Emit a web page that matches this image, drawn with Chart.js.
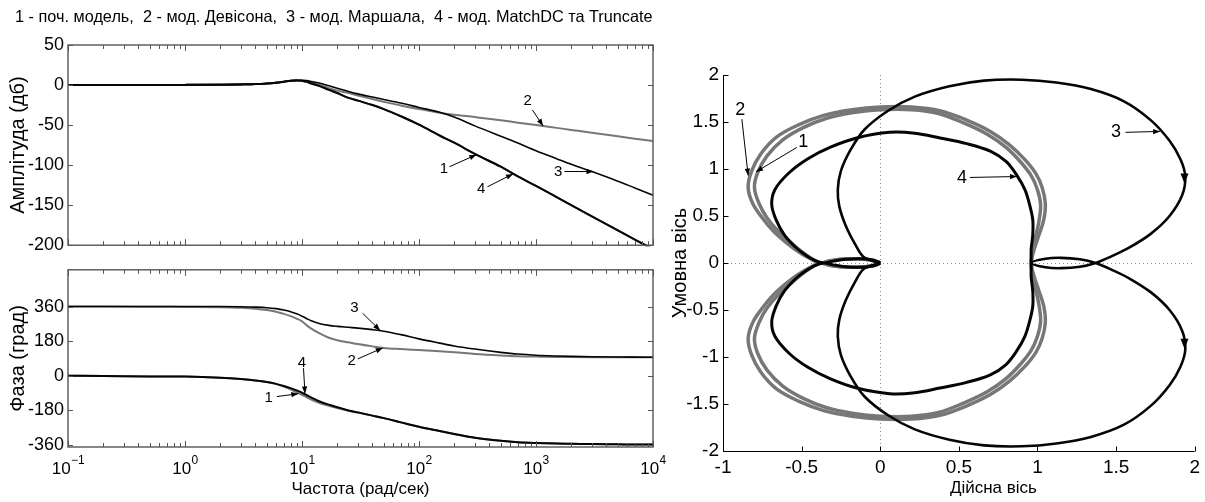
<!DOCTYPE html>
<html><head><meta charset="utf-8">
<script src="https://cdn.jsdelivr.net/npm/chart.js@4.4.1/dist/chart.umd.min.js"></script>
<style>
html,body{margin:0;padding:0;background:#fff;}
body{width:1205px;height:502px;position:relative;overflow:hidden;font-family:'Liberation Sans',Arial,sans-serif;}
canvas{position:absolute;}
#ttl{position:absolute;left:15px;top:7px;font-size:14.5px;white-space:pre;color:#000;line-height:18px;}
</style></head><body>
<canvas id="mag" width="670" height="260" style="left:0;top:0"></canvas>
<canvas id="pha" width="670" height="247" style="left:0;top:255px"></canvas>
<canvas id="nyq" width="565" height="452" style="left:640px;top:50px"></canvas>
<div id="ttl">1 - поч. модель,  2 - мод. Девісона,  3 - мод. Маршала,  4 - мод. MatchDC та Truncate</div>
<script>
// ---------- Bode data ----------
const freq = [0.1,0.2,0.5,1,2,3,4,5,6,7,8,9,10,11,12,14,17,20,25,30,40,50,70,100,150,200,300,500,700,1000,1500,2000,3000,5000,7000,10000];
const mag1 = [0,0,0,0.2,0.5,0.8,1.2,2,3,4.2,5.3,5.8,5.5,4,2,-1,-6,-10,-16,-19.5,-25,-30,-39,-49.5,-63,-72,-86,-102,-114,-126,-140,-150,-164,-181.5,-193,-205];
const mag2 = [0,0,0,0.2,0.5,0.8,1.2,2,3,4.2,5.3,5.8,5.5,4.5,3,0,-4,-7,-10,-13,-17.5,-21,-25.5,-30,-34.5,-37,-40,-44,-47,-50,-53.5,-56,-59.5,-64,-67,-70];
const mag3 = [0,0,0,0.2,0.5,0.8,1.2,2,3,4.2,5.3,6,6,5.5,4.5,2.5,-1,-4,-8,-11,-15,-18,-22.5,-28,-34,-40,-51,-64,-72.5,-82,-92,-99,-108,-120,-128.5,-137.5];
const mag4 = [0,0,0,0.2,0.5,0.8,1.2,2,3,4.2,5.3,5.8,5.5,4,2,-1,-6,-10,-16,-19.5,-25,-30,-39,-49.5,-63,-72,-86,-102,-114,-126,-140,-150,-164,-181.5,-193,-205];
const pha1 = [0,-1,-3,-4,-10,-17,-24,-32,-42,-56,-70,-85,-99,-112,-123,-140,-156,-167,-182,-191,-207,-220,-242,-265,-287,-302,-322,-338,-345,-349,-352,-353,-355,-356,-357,-357];
const pha2 = [360,360,359,358,357,354,349,342,333,322,310,297,283,262,245,222,198,185,174,165,153,145,139,134,128,123,114,106,102,100,98,97.5,97,96.5,96,96];
const pha3 = [360,360,360,360,360,359,357,354,349,342,333,322,310,297,286,272,262,257,252,248,240,232,214,192,170,155,139,122,113,107,103,101,99,97.5,97,96.5];
const pha4 = [0,-1,-3,-4,-10,-17,-24,-32,-42,-53,-64,-76,-88,-101,-113,-132,-150,-163,-180,-190,-207,-220,-242,-265,-287,-302,-322,-338,-345,-349,-352,-353,-355,-356,-357,-357];
const decades = [-1,0,1,2,3,4];
const magTicks = [-200,-150,-100,-50,0,50];
const phaTicks = [-360,-180,0,180,360];

// ---------- Nyquist data (upper branch, mirrored for negative frequencies) ----------
const nyq1Re = [0.00,-0.05,-0.15,-0.25,-0.33,-0.38,-0.44,-0.50,-0.57,-0.65,-0.72,-0.77,-0.80,-0.78,-0.72,-0.62,-0.49,-0.34,-0.17,0.00,0.20,0.37,0.53,0.68,0.80,0.89,0.96,1.00,1.02,1.01,0.99,0.97,0.96];
const nyq1Im = [0.00,0.03,0.045,0.04,0.02,0.00,0.05,0.12,0.22,0.34,0.48,0.63,0.80,0.96,1.14,1.31,1.44,1.54,1.60,1.63,1.63,1.59,1.49,1.37,1.23,1.08,0.93,0.78,0.62,0.45,0.29,0.14,0.00];
const nyq2Re = [0.00,-0.05,-0.15,-0.25,-0.33,-0.38,-0.45,-0.52,-0.60,-0.68,-0.75,-0.81,-0.84,-0.82,-0.76,-0.66,-0.52,-0.36,-0.18,0.00,0.20,0.38,0.55,0.70,0.82,0.92,0.99,1.03,1.05,1.04,1.01,0.98,0.96];
const nyq2Im = [0.00,0.03,0.045,0.04,0.02,0.00,0.05,0.12,0.22,0.34,0.48,0.63,0.80,0.97,1.16,1.34,1.47,1.57,1.63,1.66,1.66,1.62,1.52,1.40,1.26,1.10,0.95,0.80,0.63,0.46,0.30,0.15,0.00];
const nyq3Re = [0.00,-0.06,-0.11,-0.16,-0.22,-0.26,-0.27,-0.25,-0.19,-0.10,0.05,0.22,0.44,0.66,0.90,1.12,1.34,1.55,1.72,1.84,1.91,1.94,1.92,1.84,1.72,1.58,1.47,1.37,1.27,1.15,1.05,0.96];
const nyq3Im = [0.00,0.03,0.07,0.20,0.40,0.60,0.78,0.98,1.20,1.42,1.62,1.77,1.88,1.94,1.95,1.92,1.85,1.72,1.52,1.30,1.10,0.92,0.72,0.50,0.31,0.16,0.07,0.00,-0.04,-0.055,-0.045,0.00];
const nyq4Re = [0.00,-0.04,-0.12,-0.22,-0.30,-0.36,-0.42,-0.48,-0.54,-0.61,-0.66,-0.69,-0.67,-0.58,-0.46,-0.32,-0.15,0.06,0.22,0.38,0.55,0.70,0.80,0.87,0.92,0.95,0.97,0.97,0.96,0.96];
const nyq4Im = [0.00,0.03,0.045,0.04,0.02,0.00,0.03,0.09,0.17,0.30,0.45,0.62,0.78,0.96,1.11,1.23,1.33,1.39,1.38,1.33,1.27,1.19,1.08,0.93,0.78,0.62,0.46,0.30,0.15,0.00];
const nyqXTicks = [-1,-0.5,0,0.5,1,1.5,2];
const nyqYTicks = [-2,-1.5,-1,-0.5,0,0.5,1,1.5,2];

// ---------- annotations (data coordinates) ----------
const magNotes = [
  {t:'2', tx:850, ty:-19.5, x1:930, y1:-31, x2:1150, y2:-51},
  {t:'1', tx:163, ty:-105, x1:182, y1:-102, x2:309, y2:-87},
  {t:'4', tx:340, ty:-130, x1:385, y1:-127, x2:636, y2:-111},
  {t:'3', tx:1550, ty:-108.5, x1:1750, y1:-108, x2:3100, y2:-108}
];
const phaNotes = [
  {t:'3', tx:28, ty:355, x1:33, y1:325, x2:46.5, y2:236},
  {t:'2', tx:26.6, ty:78, x1:30, y1:88, x2:49, y2:145},
  {t:'4', tx:10, ty:68, x1:10.3, y1:40, x2:10.6, y2:-92},
  {t:'1', tx:5.2, ty:-112, x1:6.1, y1:-108, x2:9.3, y2:-93}
];
const nyqNotes = [
  {t:'3', tx:1.50, ty:1.39, x1:1.56, y1:1.39, x2:1.78, y2:1.40},
  {t:'4', tx:0.52, ty:0.90, x1:0.57, y1:0.91, x2:0.87, y2:0.92},
  {t:'2', tx:-0.89, ty:1.63, x1:-0.88, y1:1.53, x2:-0.84, y2:0.93},
  {t:'1', tx:-0.49, ty:1.29, x1:-0.53, y1:1.23, x2:-0.79, y2:0.97}
];
const nyqMarks = [{x:1.935, y:0.90}, {x:1.935, y:-0.86}];

// ---------- helpers ----------
const FONT = "'Liberation Sans', Arial, sans-serif";
Chart.defaults.font.family = FONT;
Chart.defaults.color = '#000';
const GRAY = '#777777', BLACK = '#050505';

function series(vals){ return freq.map((f,i)=>({x:f, y:vals[i]})); }
function closed(re, im){
  const pts = re.map((r,i)=>({x:r, y:im[i]}));
  for (let i = re.length-2; i >= 0; i--) pts.push({x:re[i], y:-im[i]});
  return pts;
}
function bodeSets(v1,v2,v3,v4){
  return [
    {data:series(v4), borderColor:BLACK, borderWidth:2, order:0},
    {data:series(v3), borderColor:BLACK, borderWidth:1.6, order:1},
    {data:series(v1), borderColor:GRAY, borderWidth:2, order:2},
    {data:series(v2), borderColor:GRAY, borderWidth:2, order:3}
  ].map(d=>Object.assign({pointRadius:0, fill:false, cubicInterpolationMode:'monotone', clip:1}, d));
}
function arrow(ctx,x1,y1,x2,y2,h){
  ctx.beginPath(); ctx.moveTo(x1,y1); ctx.lineTo(x2,y2); ctx.stroke();
  const a = Math.atan2(y2-y1,x2-x1), c=Math.cos(a), s=Math.sin(a), w=h*0.38;
  ctx.beginPath(); ctx.moveTo(x2,y2);
  ctx.lineTo(x2-h*c+w*s, y2-h*s-w*c);
  ctx.lineTo(x2-h*c-w*s, y2-h*s+w*c);
  ctx.closePath(); ctx.fill();
}
const notesPlugin = {
  id:'notes',
  afterDatasetsDraw(chart, args, o){
    const {ctx, scales:{x,y}} = chart;
    ctx.save();
    ctx.fillStyle='#000'; ctx.strokeStyle='#000'; ctx.lineWidth=1;
    ctx.font = o.font; ctx.textAlign='center'; ctx.textBaseline='middle';
    for (const n of o.items){
      ctx.fillText(n.t, x.getPixelForValue(n.tx), y.getPixelForValue(n.ty));
      arrow(ctx, x.getPixelForValue(n.x1), y.getPixelForValue(n.y1), x.getPixelForValue(n.x2), y.getPixelForValue(n.y2), o.head);
    }
    if (o.marks){
      for (const m of o.marks){
        const px = x.getPixelForValue(m.x), py = y.getPixelForValue(m.y);
        ctx.beginPath(); ctx.moveTo(px-4,py-5); ctx.lineTo(px+4,py-5); ctx.lineTo(px,py+5); ctx.closePath(); ctx.fill();
      }
    }
    ctx.restore();
  }
};
const bodeFrame = {
  id:'bodeFrame',
  afterDraw(chart, args, o){
    const {ctx, chartArea:a, scales:{x,y}} = chart;
    ctx.save();
    ctx.strokeStyle='#555'; ctx.lineWidth=1.4;
    ctx.strokeRect(a.left, a.top, a.right-a.left, a.bottom-a.top);
    ctx.lineWidth=1;
    const ln=(x1,y1,x2,y2)=>{ctx.beginPath();ctx.moveTo(x1,y1);ctx.lineTo(x2,y2);ctx.stroke();};
    for (let i=0;i<decades.length;i++){
      const e = decades[i];
      const major = Math.round(x.getPixelForValue(Math.pow(10,e)))+0.5;
      ln(major,a.top,major,a.top+6); ln(major,a.bottom,major,a.bottom-6);
      if (i < decades.length-1){
        for (let k=2;k<=9;k++){
          const px = Math.round(x.getPixelForValue(k*Math.pow(10,e)))+0.5;
          ln(px,a.top,px,a.top+4); ln(px,a.bottom,px,a.bottom-4);
        }
      }
    }
    for (const v of o.yTicks){
      const py = Math.round(y.getPixelForValue(v))+0.5;
      ln(a.left,py,a.left+5,py); ln(a.right,py,a.right-5,py);
    }
    if (o.xLabels){
      ctx.fillStyle='#000'; ctx.textBaseline='middle';
      for (const e of decades){
        const px = x.getPixelForValue(Math.pow(10,e));
        const ex = String(e).replace('-','\u2212');
        ctx.font = '17px '+FONT; const w1 = ctx.measureText('10').width;
        ctx.font = '12px '+FONT; const w2 = ctx.measureText(ex).width;
        const x0 = px - (w1+w2)/2;
        ctx.textAlign='left';
        ctx.font = '17px '+FONT; ctx.fillText('10', x0, a.bottom+22);
        ctx.font = '12px '+FONT; ctx.fillText(ex, x0+w1+0.5, a.bottom+14);
      }
    }
    ctx.restore();
  }
};
const nyqFrame = {
  id:'nyqFrame',
  beforeDatasetsDraw(chart){
    const {ctx, chartArea:a, scales:{x,y}} = chart;
    ctx.save();
    ctx.strokeStyle='#8a8a8a'; ctx.lineWidth=1; ctx.setLineDash([1,3]);
    const x0 = Math.round(x.getPixelForValue(0))+0.5, y0 = Math.round(y.getPixelForValue(0))+0.5;
    ctx.beginPath(); ctx.moveTo(x0,a.top); ctx.lineTo(x0,a.bottom); ctx.stroke();
    ctx.beginPath(); ctx.moveTo(a.left,y0); ctx.lineTo(a.right,y0); ctx.stroke();
    ctx.restore();
  },
  afterDraw(chart){
    const {ctx, chartArea:a, scales:{x,y}} = chart;
    ctx.save();
    ctx.strokeStyle='#000'; ctx.lineWidth=1;
    const ln=(x1,y1,x2,y2)=>{ctx.beginPath();ctx.moveTo(x1,y1);ctx.lineTo(x2,y2);ctx.stroke();};
    const L = Math.round(a.left)+0.5, B = Math.round(a.bottom)+0.5;
    ln(L,a.top,L,B); ln(L,B,a.right,B);
    for (const v of nyqXTicks){ const px=Math.round(x.getPixelForValue(v))+0.5; ln(px,B,px,B-5); }
    for (const v of nyqYTicks){ const py=Math.round(y.getPixelForValue(v))+0.5; ln(L,py,L+5,py); }
    ctx.fillStyle='#000'; ctx.font='17px '+FONT; ctx.textAlign='center'; ctx.textBaseline='middle';
    ctx.fillText('Дійсна вісь', x.getPixelForValue(0.72), a.bottom+37);
    ctx.restore();
  }
};
const common = {responsive:false, animation:false, events:[], maintainAspectRatio:false};
const noGrid = {display:false, drawTicks:false};
const plainLabel = v => String(v);

// ---------- magnitude ----------
new Chart(document.getElementById('mag'), {
  type:'line',
  data:{datasets:bodeSets(mag1,mag2,mag3,mag4)},
  options:Object.assign({}, common, {
    layout:{padding:{top:45,right:17,bottom:10,left:0}},
    scales:{
      x:{type:'logarithmic', min:0.1, max:10000, display:false},
      y:{min:-200, max:50, grid:noGrid, border:{display:false},
         ticks:{padding:4, font:{size:18}, color:'#000', callback:plainLabel},
         afterBuildTicks(s){ s.ticks = magTicks.map(v=>({value:v})); },
         title:{display:true, text:'Амплітуда (дб)', font:{size:20}, padding:{top:6,bottom:0}},
         afterFit(s){ s.width = 68; }}
    },
    plugins:{legend:{display:false}, tooltip:{enabled:false},
      bodeFrame:{yTicks:magTicks, xLabels:false},
      notes:{items:magNotes, font:'15px '+FONT, head:7}}
  }),
  plugins:[bodeFrame, notesPlugin]
});

// ---------- phase ----------
new Chart(document.getElementById('pha'), {
  type:'line',
  data:{datasets:bodeSets(pha1,pha2,pha3,pha4)},
  options:Object.assign({}, common, {
    layout:{padding:{top:9,right:17,bottom:0,left:0}},
    scales:{
      x:{type:'logarithmic', min:0.1, max:10000, grid:noGrid, border:{display:false},
         ticks:{display:false},
         title:{display:true, text:'Частота (рад/сек)', font:{size:17}, padding:{top:0,bottom:2}},
         afterFit(s){ s.height = 55; }},
      y:{min:-370, max:551, grid:noGrid, border:{display:false},
         ticks:{padding:4, font:{size:18}, color:'#000', callback:plainLabel},
         afterBuildTicks(s){ s.ticks = phaTicks.map(v=>({value:v})); },
         title:{display:true, text:'Фаза (град)', font:{size:20}, padding:{top:6,bottom:0}},
         afterFit(s){ s.width = 68; }}
    },
    plugins:{legend:{display:false}, tooltip:{enabled:false},
      bodeFrame:{yTicks:phaTicks, xLabels:true},
      notes:{items:phaNotes, font:'15px '+FONT, head:7}}
  }),
  plugins:[bodeFrame, notesPlugin]
});

// ---------- Nyquist ----------
const nyqSets = [
  {data:closed(nyq4Re,nyq4Im), borderColor:BLACK, borderWidth:3, order:0},
  {data:closed(nyq3Re,nyq3Im), borderColor:BLACK, borderWidth:2.6, order:1},
  {data:closed(nyq1Re,nyq1Im), borderColor:GRAY, borderWidth:3.5, order:2},
  {data:closed(nyq2Re,nyq2Im), borderColor:GRAY, borderWidth:3.5, order:3}
].map(d=>Object.assign({pointRadius:0, fill:false, tension:0.35}, d));
new Chart(document.getElementById('nyq'), {
  type:'line',
  data:{datasets:nyqSets},
  options:Object.assign({}, common, {
    layout:{padding:{top:25,right:8,bottom:0,left:0}},
    scales:{
      x:{type:'linear', min:-1, max:2, grid:noGrid, border:{display:false},
         ticks:{padding:5, font:{size:19}, color:'#000', maxRotation:0, autoSkip:false, callback:plainLabel},
         afterBuildTicks(s){ s.ticks = nyqXTicks.map(v=>({value:v})); },
         afterFit(s){ s.height = 51; }},
      y:{min:-2, max:2, grid:noGrid, border:{display:false},
         ticks:{padding:4, font:{size:19}, color:'#000', callback:plainLabel},
         afterBuildTicks(s){ s.ticks = nyqYTicks.map(v=>({value:v})); },
         title:{display:true, text:'Умовна вісь', font:{size:20}, padding:{top:28,bottom:0}},
         afterFit(s){ s.width = 83; }}
    },
    plugins:{legend:{display:false}, tooltip:{enabled:false},
      notes:{items:nyqNotes, font:'18px '+FONT, head:7, marks:nyqMarks}}
  }),
  plugins:[nyqFrame, notesPlugin]
});

// fit title width to the reference span
const tt = document.getElementById('ttl');
const tw = tt.getBoundingClientRect().width;
if (tw > 0) tt.style.fontSize = (14.5*638/tw).toFixed(2)+'px';
</script>
</body></html>
